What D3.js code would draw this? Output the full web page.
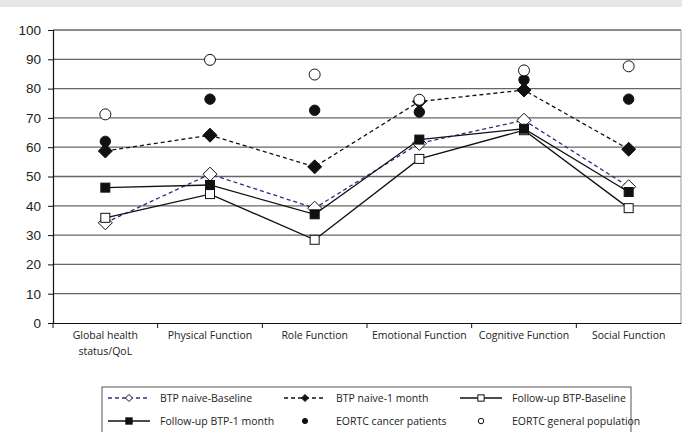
<!DOCTYPE html>
<html><head><meta charset="utf-8">
<script src="https://cdn.jsdelivr.net/npm/d3@7"></script>
<style>body{margin:0;background:#fff}svg{display:block;font-family:"Open Sans","Liberation Sans",sans-serif}</style>
</head><body><svg id="c" width="682" height="432"></svg>
<script>
const categories = ["Global health|status/QoL","Physical Function","Role Function","Emotional Function","Cognitive Function","Social Function"];
const btpNaiveBaseline = [34.2, 50.8, 39.2, 61.3, 69.2, 46.5];
const btpNaive1Month = [58.7, 64.1, 53.3, 75.6, 79.5, 59.3];
const followUpBaseline = [35.9, 44.0, 28.4, 56.0, 65.8, 39.2];
const followUp1Month = [46.2, 47.1, 37.1, 62.6, 66.3, 44.7];
const eortcCancer = [62.0, 76.4, 72.6, 72.0, 83.0, 76.4];
const eortcGeneral = [71.2, 89.8, 84.8, 76.2, 86.2, 87.6];
const yTicks = [0,10,20,30,40,50,60,70,80,90,100];

const series = [
  {name:"BTP naive-Baseline", values:btpNaiveBaseline, line:true, color:"#2b2f86", dash:"4,3", marker:"diamond", fill:"#fff"},
  {name:"BTP naive-1 month", values:btpNaive1Month, line:true, color:"#111", dash:"4,3", marker:"diamond", fill:"#111"},
  {name:"Follow-up BTP-Baseline", values:followUpBaseline, line:true, color:"#111", dash:null, marker:"square", fill:"#fff"},
  {name:"Follow-up BTP-1 month", values:followUp1Month, line:true, color:"#111", dash:null, marker:"square", fill:"#111"},
  {name:"EORTC cancer patients", values:eortcCancer, line:false, color:"#111", marker:"circle", fill:"#111"},
  {name:"EORTC general population", values:eortcGeneral, line:false, color:"#111", marker:"circle", fill:"#fff"}
];

const svg = d3.select("#c");
svg.append("rect").attr("x",0).attr("y",0).attr("width",682).attr("height",7).attr("fill","#e6e7e9");

const L=53, R=681, T=30, B=323;
const x = d3.scaleBand().domain(categories).range([L,R]).padding(0);
const y = d3.scaleLinear().domain([0,100]).range([B,T]);

// gridlines
svg.append("g").selectAll("line").data(yTicks.filter(d=>d>0)).join("line")
  .attr("x1",L).attr("x2",R).attr("y1",d=>y(d)).attr("y2",d=>y(d))
  .attr("stroke","#666").attr("stroke-width",1.3);
// right border
svg.append("line").attr("x1",R).attr("x2",R).attr("y1",T).attr("y2",B).attr("stroke","#999").attr("stroke-width",1);

// y axis
const ya = svg.append("g").attr("transform",`translate(${L},0)`)
  .call(d3.axisLeft(y).tickValues(yTicks).tickSize(5).tickPadding(7));
ya.select(".domain").attr("stroke","#111").attr("stroke-width",1.2);
ya.selectAll(".tick line").attr("stroke","#111");
ya.selectAll("text").attr("font-size",13.5).attr("fill","#222");

// x axis
const xa = svg.append("g").attr("transform",`translate(0,${B})`)
  .call(d3.axisBottom(x).tickSize(0).tickFormat(""));
xa.select(".domain").attr("stroke","#111").attr("stroke-width",1.2);
svg.append("g").selectAll("line").data(categories).join("line")
  .attr("x1",d=>x(d)).attr("x2",d=>x(d)).attr("y1",B).attr("y2",B+5).attr("stroke","#111");
const xl = svg.append("g").selectAll("text").data(categories).join("text")
  .attr("x",d=>x(d)+x.bandwidth()/2).attr("y",B+16).attr("text-anchor","middle")
  .attr("font-size",10.5).attr("fill","#222");
xl.each(function(d){
  const parts=d.split("|");
  parts.forEach((p,i)=>d3.select(this).append("tspan").attr("x",x(d)+x.bandwidth()/2).attr("dy",i?16:0).text(p));
});

const cx = (i)=>x(categories[i])+x.bandwidth()/2;
function drawMarker(g, type, px, py, fill, stroke, scale){
  scale = scale||1;
  if(type==="diamond"){
    const s=7*scale;
    g.append("path").attr("d",`M${px},${py-s}L${px+s},${py}L${px},${py+s}L${px-s},${py}Z`)
      .attr("fill",fill).attr("stroke",stroke).attr("stroke-width",1);
  } else if(type==="square"){
    const s=4.5*scale;
    g.append("rect").attr("x",px-s).attr("y",py-s).attr("width",2*s).attr("height",2*s)
      .attr("fill",fill).attr("stroke",stroke).attr("stroke-width",1);
  } else {
    const r=(fill==="#fff"?5.5:5.2)*scale;
    g.append("circle").attr("cx",px).attr("cy",py).attr("r",r)
      .attr("fill",fill).attr("stroke",stroke).attr("stroke-width",1);
  }
}

const line = d3.line().x((d,i)=>cx(i)).y(d=>y(d));
series.forEach(s=>{
  const g=svg.append("g");
  if(s.line){
    g.append("path").attr("d",line(s.values)).attr("fill","none").attr("stroke",s.color)
      .attr("stroke-width",1.3).attr("stroke-dasharray",s.dash);
  }
  s.values.forEach((v,i)=>drawMarker(g,s.marker,cx(i),y(v),s.fill,"#111"));
});

// legend
const lg = svg.append("g");
const LX=102, LY=387;
lg.append("rect").attr("x",LX).attr("y",LY).attr("width",529).attr("height",50)
  .attr("fill","#fff").attr("stroke","#555").attr("stroke-width",1);
series.forEach((s,i)=>{
  const col=i%3, row=Math.floor(i/3);
  const sx=LX+6+col*176, sy=LY+11+row*23;
  const gg=lg.append("g");
  if(s.line){
    gg.append("line").attr("x1",sx).attr("x2",sx+42).attr("y1",sy).attr("y2",sy)
      .attr("stroke",s.color).attr("stroke-width",1.3).attr("stroke-dasharray",s.dash);
  }
  drawMarker(gg,s.marker,sx+21,sy,s.fill,"#111",s.marker==="square"?0.7:0.5);
  gg.append("text").attr("x",sx+52).attr("y",sy+4).attr("font-size",10.5).attr("fill","#222").text(s.name);
});
</script></body></html>
